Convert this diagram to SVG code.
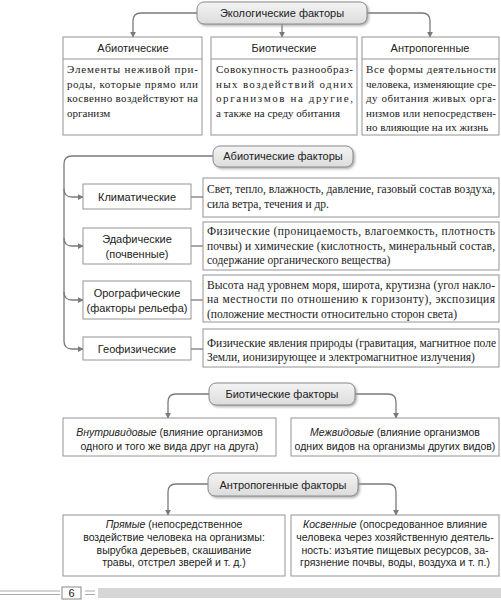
<svg xmlns="http://www.w3.org/2000/svg" width="501" height="600" viewBox="0 0 501 600">
<style>
  .bg{fill:#fff}
  .box{fill:#fff;stroke:#949494;stroke-width:1}
  .pill{fill:url(#pg);stroke:#8a8a8a;stroke-width:1;filter:url(#sh)}
  .con{fill:none;stroke:#7a7a7a;stroke-width:1.3}
  .arr{fill:none;stroke:#7a7a7a;stroke-width:1.3;marker-end:url(#ah)}
  .sans{font-family:"Liberation Sans",Arial,sans-serif;font-size:11px;fill:#222}
  .sans2{font-family:"Liberation Sans",Arial,sans-serif;font-size:10.5px;fill:#222}
  .serif{font-family:"Liberation Serif","Times New Roman",serif;font-size:11.5px;fill:#222}
  .serif2{font-family:"Liberation Serif","Times New Roman",serif;font-size:11px;fill:#222}
  .c{text-anchor:middle}
  .it{font-style:italic}
  .foot{stroke:#aaa;stroke-width:1;fill:none}
</style>
<defs>
  <linearGradient id="pg" x1="0" y1="0" x2="0" y2="1">
    <stop offset="0" stop-color="#f4f4f4"/>
    <stop offset="1" stop-color="#dcdcdc"/>
  </linearGradient>
  <filter id="sh" x="-10%" y="-30%" width="120%" height="170%">
    <feDropShadow dx="1.5" dy="1.5" stdDeviation="0.8" flood-color="#9a9a9a" flood-opacity="0.8"/>
  </filter>
  <marker id="ah" viewBox="0 0 8 8" refX="7" refY="4" markerWidth="6" markerHeight="6" markerUnits="userSpaceOnUse" orient="auto">
    <path d="M0,0 L8,4 L0,8 Z" fill="#7a7a7a"/>
  </marker>
</defs>
<rect class="bg" x="0" y="0" width="501" height="600"/>

<g id="connectors">
  <path class="arr" d="M197,13 H141 Q133,13 133,21 V37"/>
  <path class="arr" d="M282,24 V37"/>
  <path class="arr" d="M367,13 H422 Q430,13 430,21 V37"/>
  <path class="con" d="M213,156 H72 Q64,156 64,164 V341"/>
  <path class="arr" d="M64,189 Q64,197 72,197 H83"/>
  <path class="arr" d="M64,238 Q64,246 72,246 H83"/>
  <path class="arr" d="M64,292 Q64,300 72,300 H83"/>
  <path class="arr" d="M64,341 Q64,349 72,349 H83"/>
  <path class="con" d="M191,197 H203"/>
  <path class="con" d="M191,246 H203"/>
  <path class="con" d="M191,300 H203"/>
  <path class="con" d="M191,349 H203"/>
  <path class="arr" d="M209,394 H176 Q168,394 168,402 V418"/>
  <path class="arr" d="M355,394 H388 Q396,394 396,402 V418"/>
  <path class="arr" d="M208,484 H176 Q168,484 168,492 V515"/>
  <path class="arr" d="M358,484 H388 Q396,484 396,492 V515"/>
</g>

<g id="eco-factors">
  <rect class="pill" x="197" y="2" width="170" height="22" rx="7"/>
  <text class="sans c" x="282" y="17">Экологические факторы</text>
</g>

<g id="abiotic">
  <rect class="box" x="63" y="37" width="139" height="98"/>
  <line x1="63" y1="59" x2="202" y2="59" stroke="#949494"/>
  <text class="sans c" x="133" y="52">Абиотические</text>
  <text class="serif2" x="67" y="73" textLength="131" lengthAdjust="spacing">Элементы неживой при-</text>
  <text class="serif2" x="67" y="87.5" textLength="131" lengthAdjust="spacing">роды, которые прямо или</text>
  <text class="serif2" x="67" y="102" textLength="131" lengthAdjust="spacing">косвенно воздействуют на</text>
  <text class="serif2" x="67" y="116.5">организм</text>
</g>

<g id="biotic">
  <rect class="box" x="211" y="37" width="146" height="98"/>
  <line x1="211" y1="59" x2="357" y2="59" stroke="#949494"/>
  <text class="sans c" x="284" y="52">Биотические</text>
  <text class="serif2" x="216" y="73" textLength="137" lengthAdjust="spacing">Совокупность разнообраз-</text>
  <text class="serif2" x="216" y="87.5" textLength="137" lengthAdjust="spacing">ных воздействий одних</text>
  <text class="serif2" x="216" y="102" textLength="137" lengthAdjust="spacing">организмов на другие,</text>
  <text class="serif2" x="216" y="116.5">а также на среду обитания</text>
</g>

<g id="anthropogenic">
  <rect class="box" x="362" y="37" width="137" height="98"/>
  <line x1="362" y1="59" x2="499" y2="59" stroke="#949494"/>
  <text class="sans c" x="430" y="52">Антропогенные</text>
  <text class="serif2" x="366" y="73" textLength="130" lengthAdjust="spacing">Все формы деятельности</text>
  <text class="serif2" x="366" y="87.5" textLength="130" lengthAdjust="spacing">человека, изменяющие сре-</text>
  <text class="serif2" x="366" y="102" textLength="130" lengthAdjust="spacing">ду обитания живых орга-</text>
  <text class="serif2" x="366" y="116.5" textLength="130" lengthAdjust="spacing">низмов или непосредствен-</text>
  <text class="serif2" x="366" y="131">но влияющие на их жизнь</text>
</g>

<g id="abiotic-factors">
  <rect class="pill" x="213" y="146" width="140" height="21" rx="7"/>
  <text class="sans c" x="283" y="160">Абиотические факторы</text>
</g>

<g id="climatic">
  <rect class="box" x="83" y="184" width="108" height="25"/>
  <text class="sans c" x="137" y="201">Климатические</text>
  <rect class="box" x="203" y="178" width="296" height="39"/>
  <text class="serif" x="207" y="193" textLength="288" lengthAdjust="spacing">Свет, тепло, влажность, давление, газовый состав воздуха,</text>
  <text class="serif" x="207" y="208">сила ветра, течения и др.</text>
</g>

<g id="edaphic">
  <rect class="box" x="83" y="228" width="108" height="36"/>
  <text class="sans c" x="137" y="243">Эдафические</text>
  <text class="sans c" x="137" y="258">(почвенные)</text>
  <rect class="box" x="203" y="222" width="296" height="48"/>
  <text class="serif" x="207" y="235" textLength="288" lengthAdjust="spacing">Физические (проницаемость, влагоемкость, плотность</text>
  <text class="serif" x="207" y="249.5" textLength="288" lengthAdjust="spacing">почвы) и химические (кислотность, минеральный состав,</text>
  <text class="serif" x="207" y="264">содержание органического вещества)</text>
</g>

<g id="orographic">
  <rect class="box" x="83" y="281" width="108" height="38"/>
  <text class="sans c" x="137" y="297">Орографические</text>
  <text class="sans c" x="137" y="312">(факторы рельефа)</text>
  <rect class="box" x="203" y="275" width="296" height="47"/>
  <text class="serif" x="207" y="288.5" textLength="288" lengthAdjust="spacing">Высота над уровнем моря, широта, крутизна (угол накло-</text>
  <text class="serif" x="207" y="303" textLength="288" lengthAdjust="spacing">на местности по отношению к горизонту), экспозиция</text>
  <text class="serif" x="207" y="317.5">(положение местности относительно сторон света)</text>
</g>

<g id="geophysical">
  <rect class="box" x="83" y="337" width="108" height="23"/>
  <text class="sans c" x="137" y="353">Геофизические</text>
  <rect class="box" x="203" y="329" width="296" height="38"/>
  <text class="serif" x="207" y="346.5" textLength="289" lengthAdjust="spacing">Физические явления природы (гравитация, магнитное поле</text>
  <text class="serif" x="207" y="361">Земли, ионизирующее и электромагнитное излучения)</text>
</g>

<g id="biotic-factors">
  <rect class="pill" x="209" y="383" width="146" height="22" rx="7"/>
  <text class="sans c" x="282" y="398">Биотические факторы</text>
</g>

<g id="intraspecific">
  <rect class="box" x="63" y="418" width="213" height="38"/>
  <text class="sans2 c" x="169.5" y="436"><tspan class="it">Внутривидовые</tspan> (влияние организмов</text>
  <text class="sans2 c" x="169.5" y="450">одного и того же вида друг на друга)</text>
</g>

<g id="interspecific">
  <rect class="box" x="291" y="418" width="208" height="38"/>
  <text class="sans2 c" x="395" y="436"><tspan class="it">Межвидовые</tspan> (влияние организмов</text>
  <text class="sans2 c" x="395" y="450">одних видов на организмы других видов)</text>
</g>

<g id="anthropogenic-factors">
  <rect class="pill" x="208" y="473" width="150" height="23" rx="7"/>
  <text class="sans c" x="283" y="488.5">Антропогенные факторы</text>
</g>

<g id="direct">
  <rect class="box" x="63" y="515" width="222" height="61"/>
  <text class="sans2 c" x="174" y="528"><tspan class="it">Прямые</tspan> (непосредственное</text>
  <text class="sans2 c" x="174" y="541">воздействие человека на организмы:</text>
  <text class="sans2 c" x="174" y="553.5">вырубка деревьев, скашивание</text>
  <text class="sans2 c" x="174" y="566">травы, отстрел зверей и т. д.)</text>
</g>

<g id="indirect">
  <rect class="box" x="291" y="515" width="208" height="61"/>
  <text class="sans2 c" x="395" y="528"><tspan class="it">Косвенные</tspan> (опосредованное влияние</text>
  <text class="sans2 c" x="395" y="541">человека через хозяйственную деятель-</text>
  <text class="sans2 c" x="395" y="553.5">ность: изъятие пищевых ресурсов, за-</text>
  <text class="sans2 c" x="395" y="566">грязнение почвы, воды, воздуха и т. п.)</text>
</g>

<g id="footer">
  <line class="foot" x1="0" y1="591" x2="60" y2="591"/>
  <line class="foot" x1="0" y1="594.5" x2="60" y2="594.5"/>
  <rect x="62" y="587" width="19" height="12" fill="#fff" stroke="#888" stroke-width="1"/>
  <text class="sans c" x="71.5" y="597">6</text>
  <line class="foot" x1="85" y1="591" x2="95" y2="591"/>
  <line class="foot" x1="85" y1="594.5" x2="95" y2="594.5"/>
  <rect x="98" y="588" width="403" height="10" fill="#d6d6d6"/>
</g>
</svg>
